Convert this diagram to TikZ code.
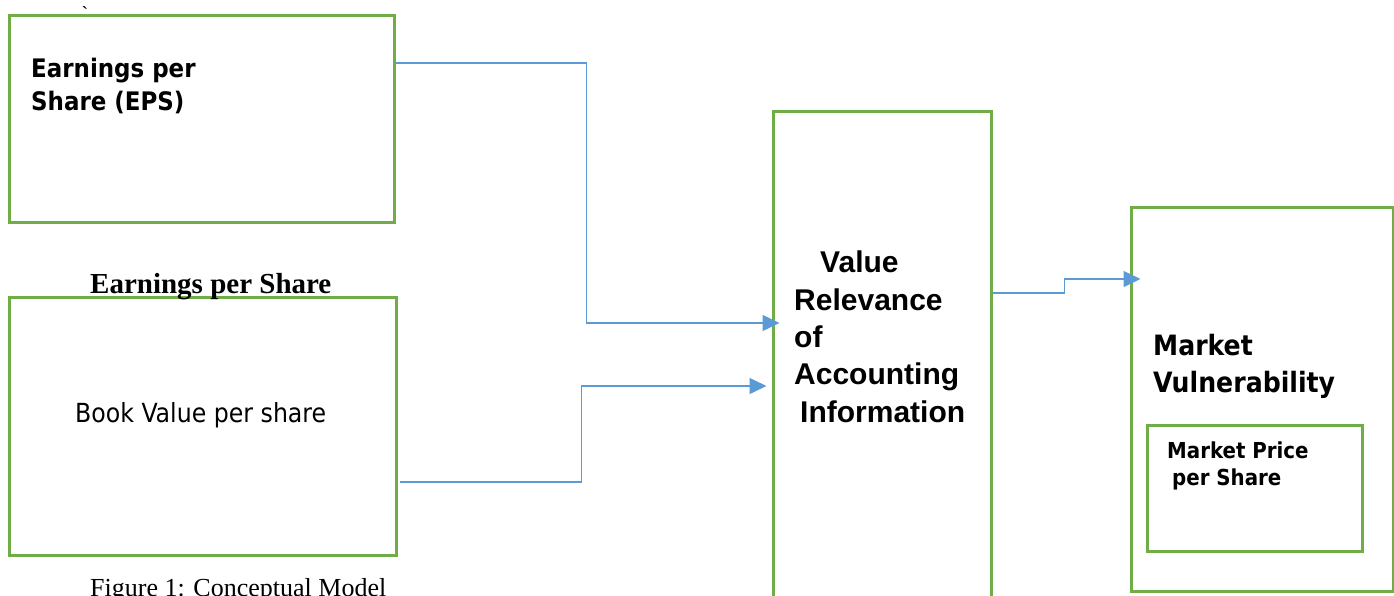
\documentclass[tikz,border=0pt]{standalone}
\usepackage{fontspec}
\setmainfont{Liberation Serif}
\newfontfamily\tah{DejaVu Sans Condensed}
\newfontfamily\ari{Liberation Sans}
\usetikzlibrary{arrows.meta}
\definecolor{boxgreen}{HTML}{70AD47}
\definecolor{linkblue}{HTML}{5B9BD5}
\tikzset{
  box/.style={draw=boxgreen, line width=3pt, rectangle, inner sep=0pt},
  conn/.style={draw=linkblue, line width=1.4pt, -{Triangle[length=17pt,width=16pt]}, fill=none},
  lbl/.style={inner sep=0pt, anchor=base west, align=left, text=black},
}
\begin{document}
\begin{tikzpicture}[x=1pt,y=-1pt]
\clip (0,0) rectangle (1394,595);
\fill[white] (0,0) rectangle (1394,595);
% boxes
\node[box, minimum width=385pt, minimum height=207pt] (eps) at (201.5,118.5) {};
\node[box, minimum width=387pt, minimum height=258pt] (bv) at (202.5,426) {};
\node[box, minimum width=218pt, minimum height=520pt] (vr) at (882,371) {};
\node[box, minimum width=262pt, minimum height=384pt] (mv) at (1262,399) {};
\node[box, minimum width=215pt, minimum height=126pt] (mp) at (1254.5,488) {};
% texts (base anchor = baseline of last line)
\node[lbl, font=\tah\bfseries\fontsize{25.5}{33}\selectfont] (tEps) at (31,110) {Earnings per\\Share (EPS)};
\node[lbl, font=\bfseries\fontsize{29}{33}\selectfont] (tEps2) at (90,293) {Earnings per Share};
\node[lbl, font=\tah\fontsize{26.3}{30}\selectfont] (tBv) at (75,422) {Book Value per share};
\node[lbl, font=\ari\bfseries\fontsize{30}{37.3}\selectfont] (tVr) at (794,422) {\hspace*{26pt}Value\\Relevance\\of\\Accounting\\\hspace*{6pt}Information};
\node[lbl, font=\tah\bfseries\fontsize{28}{36.5}\selectfont] (tMv) at (1153,392) {Market\\Vulnerability};
\node[lbl, font=\tah\bfseries\fontsize{22}{27}\selectfont] (tMp) at (1167,485) {Market Price\\\hspace*{5pt}per Share};
\node[lbl, font=\fontsize{26}{30}\selectfont] (cap) at (90,596) {Figure 1: Conceptual Model};
\node[inner sep=0pt, font=\fontsize{20}{24}\selectfont] (tick) at (85,14) {\textasciigrave};
% connectors
\draw[conn] ([yshift=55.5pt]eps.east) -| ([xshift=-185pt,yshift=48pt]vr.west) -- ([xshift=8pt,yshift=48pt]vr.west);
\draw[conn] ([xshift=2pt,yshift=-56pt]bv.east) -| ([xshift=-190pt,yshift=-15pt]vr.west) -- ([xshift=-5pt,yshift=-15pt]vr.west);
\draw[conn] ([yshift=78pt]vr.east) -| ([xshift=-65pt,yshift=120pt]mv.west) -- ([xshift=11pt,yshift=120pt]mv.west);
\end{tikzpicture}
\end{document}
